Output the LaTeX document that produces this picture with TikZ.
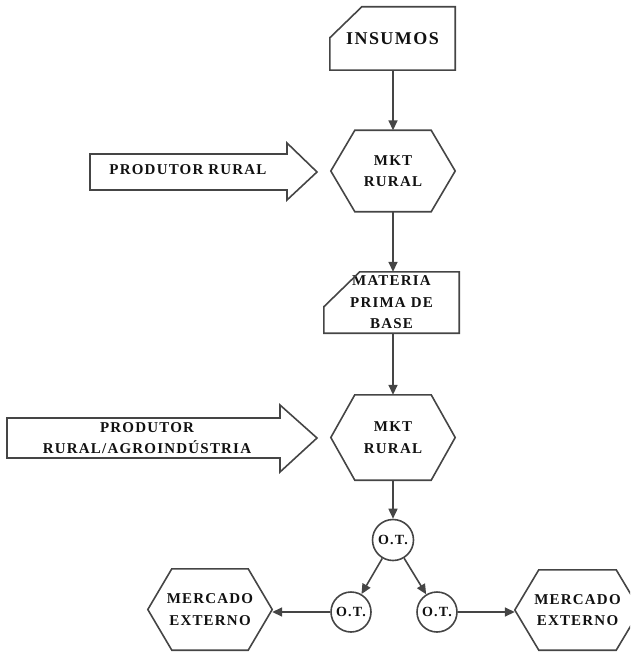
\documentclass[tikz,border=0pt]{standalone}
\usepackage{fontspec}
\setmainfont{Liberation Serif}[LetterSpace=8]
\usetikzlibrary{arrows.meta}
\definecolor{lc}{HTML}{454545}
\definecolor{tc}{HTML}{111111}
\newcommand\hexo[1]{\draw[ln] (#1.west) -- ([xshift=24pt]#1.north west) -- ([xshift=-24pt]#1.north east) -- (#1.east) -- ([xshift=-24pt]#1.south east) -- ([xshift=24pt]#1.south west) -- cycle;}
\begin{document}
\begin{tikzpicture}[x=1pt,y=-1pt,
  ln/.style={draw=lc, line width=1.6pt, line join=miter},
  arr/.style={ln, -{Triangle[length=10pt,width=9pt]}},
  txt/.style={font=\bfseries\fontsize{15}{21.5}\selectfont, text=tc, align=center, inner sep=0pt},
  hexn/.style={txt, minimum width=124pt, minimum height=82pt},
  circn/.style={txt, circle, draw=lc, line width=1.6pt, minimum size=41pt, font=\bfseries\fontsize{14}{16}\selectfont}]
\useasboundingbox (0,0) rectangle (630,652);
\clip (0,0) rectangle (630,652);
% INSUMOS card
\node[txt, minimum width=125pt, minimum height=63pt, font=\bfseries\fontsize{18}{20}\selectfont] (ins) at (392.5,38.5) {INSUMOS};
\draw[ln] ([yshift=-31pt]ins.north west) -- ([xshift=32pt]ins.north west) -- (ins.north east) -- (ins.south east) -- (ins.south west) -- cycle;
% hexagon 1
\node[hexn, minimum height=81pt] (h1) at (393,171) {MKT\\RURAL};
\hexo{h1}
% materia prima card
\node[txt, minimum width=135pt, minimum height=61pt] (mat) at (391.5,302.5) {MATERIA\\PRIMA DE\\BASE};
\draw[ln] ([yshift=-35pt]mat.north west) -- ([xshift=36pt]mat.north west) -- (mat.north east) -- (mat.south east) -- (mat.south west) -- cycle;
% hexagon 2
\node[hexn, minimum height=85pt] (h2) at (393,437.5) {MKT\\RURAL};
\hexo{h2}
% O.T. circles
\node[circn] (ot) at (393,540) {O.T.};
\node[circn, minimum size=40pt] (ot1) at (351,612) {O.T.};
\node[circn, minimum size=40pt] (ot2) at (437,612) {O.T.};
% mercado externo
\node[hexn, minimum height=81pt] (me1) at (210,609.5) {MERCADO\\EXTERNO};
\hexo{me1}
\node[hexn, minimum width=125pt, minimum height=80pt] (me2) at (577.5,610) {MERCADO\\EXTERNO};
\hexo{me2}
% block arrows
\draw[ln] (90,154) -- (287,154) -- (287,143) -- (317,172) -- (287,200) -- (287,190) -- (90,190) -- cycle;
\node[txt] (pr1) at (188,170) {PRODUTOR RURAL};
\draw[ln] (7,418) -- (280,418) -- (280,405) -- (317,438) -- (280,472) -- (280,458) -- (7,458) -- cycle;
\node[txt] (pr2) at (147,438) {PRODUTOR\\RURAL/AGROINDÚSTRIA};
% connectors
\draw[arr] (ins.south -| h1.north) -- (h1.north);
\draw[arr] (h1.south) -- (h1.south |- mat.north);
\draw[arr] (h2.north |- mat.south) -- (h2.north);
\draw[arr] (h2.south) -- (ot.north);
\draw[arr] (ot) -- (ot1);
\draw[arr] (ot) -- (ot2);
\draw[arr] (ot1.west) -- (ot1.west -| me1.east);
\draw[arr] (ot2.east) -- (ot2.east -| me2.west);
\end{tikzpicture}
\end{document}
